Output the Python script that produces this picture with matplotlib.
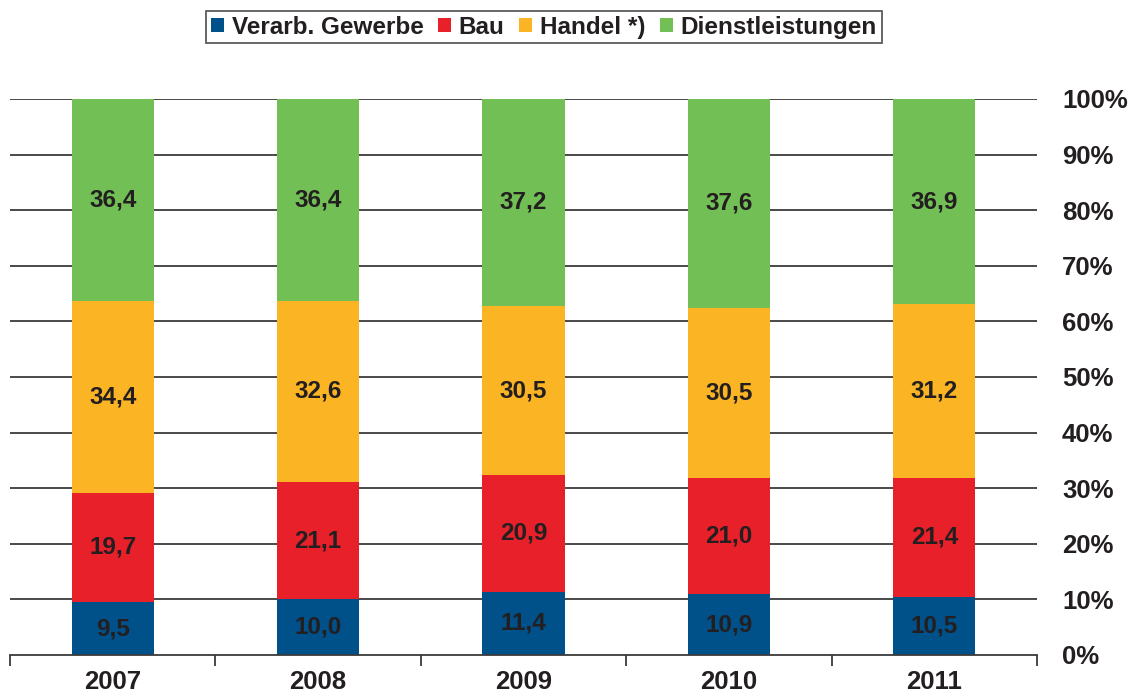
import matplotlib.pyplot as plt
from matplotlib.patches import Patch
import numpy as np

plt.rcParams["font.family"] = ["Liberation Sans", "DejaVu Sans"]
plt.rcParams["font.weight"] = "bold"

years = ["2007", "2008", "2009", "2010", "2011"]
series = ["Verarb. Gewerbe", "Bau", "Handel *)", "Dienstleistungen"]
verarb = [9.5, 10.0, 11.4, 10.9, 10.5]
bau = [19.7, 21.1, 20.9, 21.0, 21.4]
handel = [34.4, 32.6, 30.5, 30.5, 31.2]
dienst = [36.4, 36.4, 37.2, 37.6, 36.9]
colors = ["#00508A", "#E8202A", "#FBB424", "#72BF55"]
TXT = "#231F20"

fig = plt.figure(figsize=(11.33, 6.95), dpi=100)
ax = fig.add_axes([0.0088, 0.0576, 0.9065, 0.8000])

x = np.arange(len(years))
bottom = np.zeros(len(years))
for vals, col in zip([verarb, bau, handel, dienst], colors):
    vals = np.array(vals)
    ax.bar(x, vals, 0.4, bottom=bottom, color=col, zorder=3)
    for xi, b, v in zip(x, bottom, vals):
        ax.text(xi, b + v / 2, f"{v:.1f}".replace(".", ","), ha="center",
                va="center", fontsize=17.5, color=TXT, fontweight="bold",
                zorder=4)
    bottom += vals

ax.set_xlim(-0.5, len(years) - 0.5)
ax.set_ylim(0, 100)

for yv in range(10, 101, 10):
    ax.axhline(yv, color="#3a3a3a", lw=1.3, zorder=1)

ax.yaxis.tick_right()
ax.set_yticks(range(0, 101, 10))
ax.set_yticklabels([f"{v}%" for v in range(0, 101, 10)])
ax.tick_params(axis="y", length=0, pad=18, labelsize=18.5, labelcolor=TXT)

ax.set_xticks(np.arange(-0.5, len(years), 1.0))
ax.set_xticklabels([])
ax.set_xticks(x, minor=True)
ax.set_xticklabels(years, minor=True)
ax.tick_params(axis="x", which="major", length=8, width=1.3,
               color="#3a3a3a", direction="out")
ax.tick_params(axis="x", which="minor", length=0, pad=11, labelsize=18.5,
               labelcolor=TXT)

for s in ["top", "left", "right"]:
    ax.spines[s].set_visible(False)
ax.spines["bottom"].set_color("#3a3a3a")
ax.spines["bottom"].set_linewidth(1.3)
ax.spines["bottom"].set_zorder(5)

handles = [Patch(facecolor=c, edgecolor="none", label=s)
           for c, s in zip(colors, series)]
leg = fig.legend(handles=handles, loc="upper center",
                 bbox_to_anchor=(0.48, 0.995), ncol=4, frameon=True,
                 fancybox=False, fontsize=17.5, handlelength=0.55,
                 handleheight=0.55, handletextpad=0.3, columnspacing=0.6,
                 borderpad=0.2, borderaxespad=0.3)
leg.get_frame().set_edgecolor("#333333")
leg.get_frame().set_linewidth(1.3)
for t in leg.get_texts():
    t.set_color(TXT)

fig.savefig("out.png", dpi=100)
